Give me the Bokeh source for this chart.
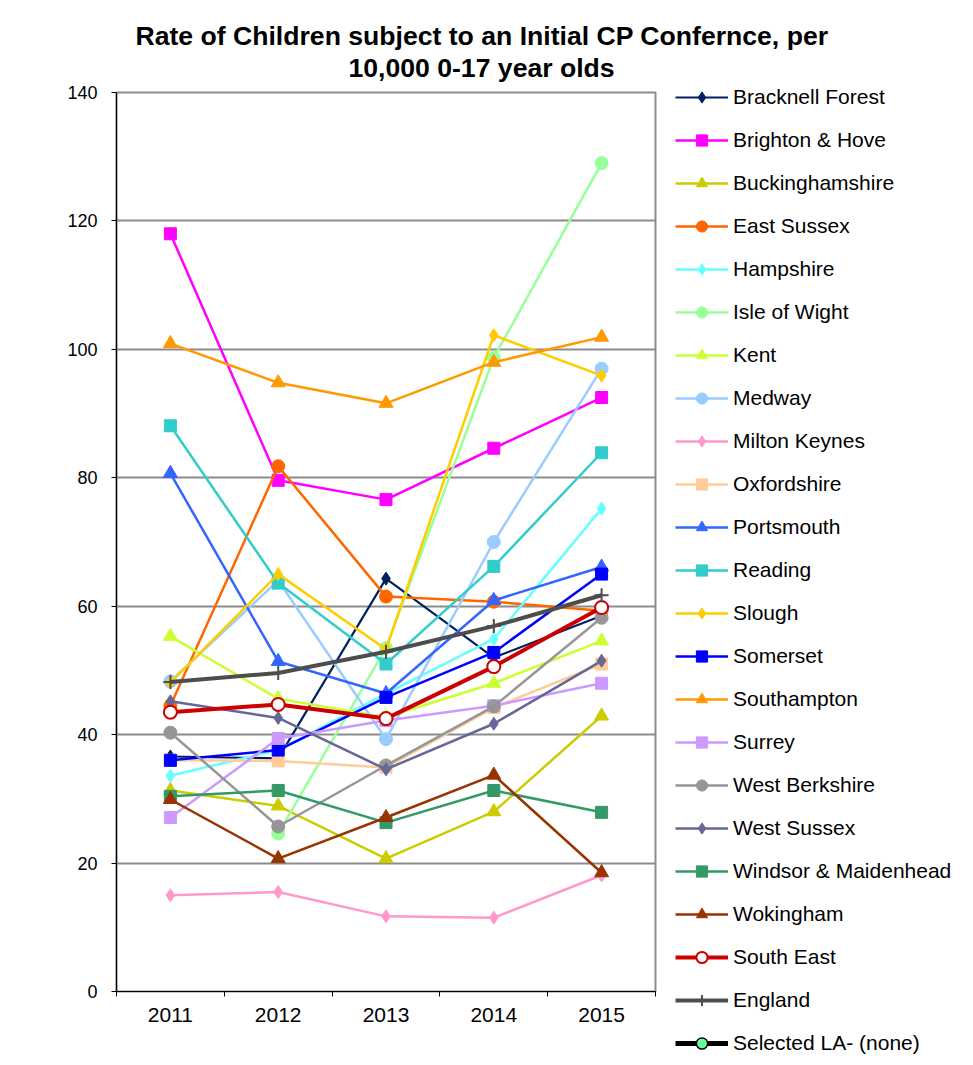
from bokeh.plotting import figure
from bokeh.models import Legend, LegendItem, Title, FixedTicker, Range1d, ColumnDataSource
from bokeh.embed import file_html
from bokeh.resources import INLINE

nan = float("nan")

years = [2011, 2012, 2013, 2014, 2015]
y_ticks = [0, 20, 40, 60, 80, 100, 120, 140]

bracknell_forest = [36.6, 36.3, 64.3, 52.0, 58.5]
brighton_hove = [118.0, 79.6, 76.6, 84.6, 92.5]
buckinghamshire = [31.3, 28.9, 20.7, 28.0, 42.9]
east_sussex = [44.5, 81.8, 61.5, 60.7, 59.3]
hampshire = [33.6, 37.6, 46.4, 54.9, 75.2]
isle_of_wight = [nan, 24.6, 53.5, 98.7, 129.0]
kent = [55.3, 45.6, 42.7, 48.0, 54.6]
medway = [48.3, 64.0, 39.3, 70.0, 97.0]
milton_keynes = [15.0, 15.5, 11.7, 11.5, 18.1]
oxfordshire = [36.0, 35.9, 34.9, 44.2, 51.0]
portsmouth = [80.7, 51.4, 46.4, 60.9, 66.1]
reading = [88.1, 63.6, 51.0, 66.2, 83.9]
slough = [48.1, 65.0, 53.3, 102.2, 95.9]
somerset = [36.0, 37.6, 45.8, 52.8, 65.0]
southampton = [100.9, 94.8, 91.6, 98.0, 101.9]
surrey = [27.1, 39.4, 42.2, 44.5, 48.0]
west_berkshire = [40.3, 25.7, 35.2, 44.4, 58.2]
west_sussex = [45.2, 42.6, 34.6, 41.7, 51.5]
windsor_maidenhead = [30.4, 31.3, 26.3, 31.3, 27.9]
wokingham = [29.9, 20.7, 27.1, 33.7, 18.5]
south_east = [43.5, 44.7, 42.5, 50.6, 59.8]
england = [48.2, 49.6, 52.9, 56.9, 61.7]
selected_la = [nan, nan, nan, nan, nan]  # "(none)": no values

series = [
    ("Bracknell Forest", bracknell_forest, "#002060", "diamond", 13, 2.2, None),
    ("Brighton & Hove", brighton_hove, "#FF00FF", "square", 12, 2.5, None),
    ("Buckinghamshire", buckinghamshire, "#CCCC00", "triangle", 14, 2.5, None),
    ("East Sussex", east_sussex, "#FF6600", "circle", 13, 2.5, None),
    ("Hampshire", hampshire, "#66FFFF", "diamond", 13, 2.5, None),
    ("Isle of Wight", isle_of_wight, "#99FF99", "circle", 13, 2.5, None),
    ("Kent", kent, "#CCFF33", "triangle", 14, 2.5, None),
    ("Medway", medway, "#99CCFF", "circle", 13, 2.5, None),
    ("Milton Keynes", milton_keynes, "#FF99CC", "diamond", 13, 2.5, None),
    ("Oxfordshire", oxfordshire, "#FFCC99", "square", 12, 2.5, None),
    ("Portsmouth", portsmouth, "#3366FF", "triangle", 14, 2.5, None),
    ("Reading", reading, "#33CCCC", "square", 12, 2.5, None),
    ("Slough", slough, "#FFCC00", "diamond", 13, 2.5, None),
    ("Somerset", somerset, "#0000FF", "square", 12, 2.5, None),
    ("Southampton", southampton, "#FF9900", "triangle", 14, 2.5, None),
    ("Surrey", surrey, "#CC99FF", "square", 12, 2.5, None),
    ("West Berkshire", west_berkshire, "#969696", "circle", 13, 2.5, None),
    ("West Sussex", west_sussex, "#666699", "diamond", 13, 2.5, None),
    ("Windsor & Maidenhead", windsor_maidenhead, "#339966", "square", 12, 2.5, None),
    ("Wokingham", wokingham, "#993300", "triangle", 14, 2.5, None),
    ("South East", south_east, "#CC0000", "circle", 13, 4, "white"),
    ("England", england, "#4D4D4D", "cross", 14, 4, None),
]

p = figure(frame_width=539, frame_height=899, output_backend="svg", toolbar_location=None,
           x_range=Range1d(2010.5, 2015.5), y_range=Range1d(0, 140),
           min_border_left=116, min_border_right=300, min_border_top=92, min_border_bottom=70)
p.background_fill_color = "white"
p.border_fill_color = "white"
p.outline_line_color = "#8c8c8c"
p.outline_line_width = 2

p.xgrid.grid_line_color = None
p.ygrid.ticker = FixedTicker(ticks=y_ticks)
p.ygrid.grid_line_color = "#8c8c8c"
p.ygrid.grid_line_width = 2

p.xaxis.ticker = FixedTicker(ticks=years, minor_ticks=[2010.5, 2011.5, 2012.5, 2013.5, 2014.5, 2015.5])
p.xaxis.major_tick_line_color = None
p.xaxis.minor_tick_line_color = "black"
p.xaxis.minor_tick_out = 5
p.xaxis.minor_tick_in = 0
p.xaxis.major_label_standoff = 10
p.xaxis.major_label_text_font_size = "21px"
p.yaxis.ticker = FixedTicker(ticks=y_ticks)
p.yaxis.major_tick_out = 5
p.yaxis.major_tick_in = 0
p.yaxis.minor_tick_line_color = None
p.yaxis.major_label_standoff = 14
p.yaxis.major_label_text_font_size = "18px"
for ax in (p.xaxis, p.yaxis):
    ax.axis_line_color = "black"
    ax.axis_line_width = 1.2
    ax.major_label_text_font = "Liberation Sans"
    ax.major_label_text_color = "black"

items = []
for name, vals, color, marker, size, lw, fill in series:
    src = ColumnDataSource(dict(x=years, y=vals))
    r_line = p.line("x", "y", source=src, line_color=color, line_width=lw)
    if marker == "cross":
        r_mk = p.scatter("x", "y", source=src, marker="cross", size=size,
                         line_color=color, line_width=2)
    else:
        r_mk = p.scatter("x", "y", source=src, marker=marker, size=size,
                         line_color=color, line_width=2 if fill else 1,
                         fill_color=fill if fill else color)
    items.append(LegendItem(label=name, renderers=[r_line, r_mk]))

src_sel = ColumnDataSource(dict(x=years, y=selected_la))
r_sel_l = p.line("x", "y", source=src_sel, line_color="black", line_width=5)
r_sel_m = p.scatter("x", "y", source=src_sel, marker="circle", size=12,
                    line_color="black", line_width=1.5, fill_color="#66FF99")
items.append(LegendItem(label="Selected LA- (none)", renderers=[r_sel_l, r_sel_m]))

legend = Legend(items=items, location=(20, -66))
legend.glyph_width = 53
legend.glyph_height = 28
legend.label_height = 28
legend.spacing = 15
legend.label_standoff = 5
legend.padding = 0
legend.margin = 0
legend.border_line_color = None
legend.background_fill_alpha = 0
legend.label_text_font = "Liberation Sans"
legend.label_text_font_size = "21px"
legend.label_text_color = "black"
p.add_layout(legend, "right")

t2 = Title(text="10,000 0-17 year olds", align="left", offset=232,
           text_font="Liberation Sans", text_font_style="bold", text_font_size="26.6px",
           text_color="black", standoff=20)
t1 = Title(text="Rate of Children subject to an Initial CP Confernce, per", align="left", offset=19,
           text_font="Liberation Sans", text_font_style="bold", text_font_size="26.6px",
           text_color="black", standoff=-20)
p.add_layout(t2, "above")
p.add_layout(t1, "above")

open("out.html", "w").write(file_html(p, INLINE))
